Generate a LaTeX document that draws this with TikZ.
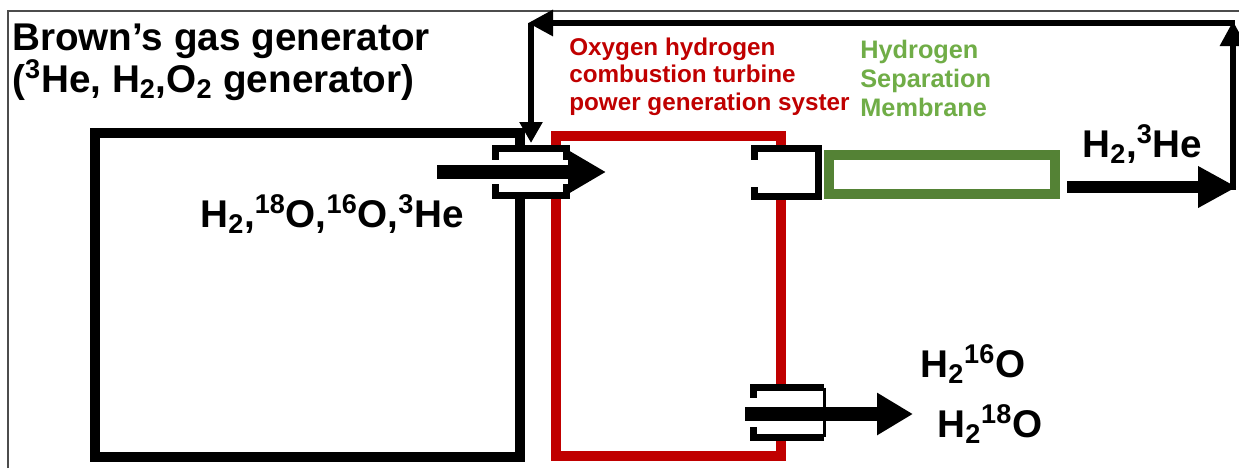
\documentclass[tikz,border=0pt]{standalone}
\usepackage{fontspec}
\setmainfont{Liberation Sans}
\usepackage{xcolor}
\usetikzlibrary{arrows.meta, positioning}
\definecolor{turbred}{RGB}{192,0,0}
\definecolor{memgreen}{RGB}{84,130,53}
\definecolor{memtext}{RGB}{112,173,71}

\begin{document}
\begin{tikzpicture}[
    x=0.02cm, y=-0.02cm,
    frame/.style={draw=black!70, line width=0.8pt},
    genbox/.style={draw, line width=5.7pt, minimum width=8.5cm, minimum height=6.48cm, inner sep=0pt},
    turbbox/.style={draw=turbred, line width=6pt, minimum width=4.5cm, minimum height=6.4cm, inner sep=0pt},
    membox/.style={draw=memgreen, line width=5.7pt, minimum width=4.52cm, minimum height=0.78cm, inner sep=0pt},
    valve/.style={fill=white, inner sep=0pt},
    klem/.style={draw, line width=4.3pt},
    flow/.style={draw, line width=7.5pt, -{Triangle[length=0.76cm, width=0.82cm]}},
    balik/.style={draw, line width=3.4pt, -{Triangle[length=0.5cm, width=0.5cm]}},
    judul/.style={anchor=base west, inner sep=0pt, font=\fontsize{22}{24}\selectfont\bfseries},
    zat/.style={anchor=base west, inner sep=0pt, font=\fontsize{22}{26}\selectfont\bfseries},
    ket/.style={anchor=north west, inner sep=0pt, align=left, font=\fontsize{13.8}{15.4}\selectfont\bfseries}
  ]
    \useasboundingbox[fill=white] (0,0) rectangle (1239,468);
    \draw[frame] (8,468) |- (1239,11);

    % boxes
    \node[genbox] (gen) at (307.5,295) {};
    \node[turbbox] (turb) at (668.5,296) {};
    \node[membox] (mem) at (942,174.5) {};

    % valves
    \node[valve, minimum width=1.4cm, minimum height=0.92cm] (vin) at (531,172) {};
    \node[valve, minimum width=1.26cm, minimum height=0.94cm] (vout) at (786.5,172.5) {};
    \node[valve, minimum width=1.4cm, minimum height=0.98cm] (vwat) at (789,412.5) {};

    \draw[klem] (vin.north west) ++(0,11) -- ++(0,-11) -- (vin.north east) -- ++(0,11);
    \draw[klem] (vin.south west) ++(0,-11) -- ++(0,11) -- (vin.south east) -- ++(0,-11);
    \draw[klem] (vout.north west) ++(0,11) -- ++(0,-11) -- (vout.north east) -- (vout.south east) -- (vout.south west) -- ++(0,-9);
    \draw[klem] (vwat.north west) ++(0,10) -- ++(0,-10) -- (vwat.north east);
    \draw[klem] (vwat.south west) ++(0,-10) -- ++(0,10) -- (vwat.south east);
    \draw[line width=2pt] (vwat.north east) -- (vwat.south east);

    % flows
    \coordinate (inA) at (437,172);
    \coordinate (inB) at (606,172);
    \coordinate (hA) at (1067,187);
    \coordinate (hB) at (1237,187);
    \coordinate (wA) at (745,414);
    \coordinate (wB) at (913,414);
    \draw[flow] (inA) -- (inB);
    \draw[flow, line width=6.8pt, -{Triangle[length=0.78cm, width=0.78cm]}] (hA) -- (hB);
    \draw[flow, -{Triangle[length=0.72cm, width=0.8cm]}] (wA) -- (wB);

    % return line
    \coordinate (r1) at (1233,190);
    \coordinate (r2) at (1233,21);
    \coordinate (r3) at (1235,23);
    \coordinate (r4) at (528,23);
    \coordinate (r5) at (531,23);
    \coordinate (r6) at (531,143);
    \draw[balik] (r1) -- (r2);
    \draw[balik] (r3) -- (r4);
    \draw[balik, -{Triangle[length=0.42cm, width=0.44cm]}] (r5) -- (r6);

    % labels
    \node[judul] (t1) at (12,50) {Brown’s gas generator};
    \node[judul] (t2) at (12,92) {(\textsuperscript{3}He, H\textsubscript{2},O\textsubscript{2} generator)};
    \node[ket, text=turbred] (tturb) at (569,38) {Oxygen hydrogen\\combustion turbine\\power generation syster};
    \node[ket, text=memtext, font=\fontsize{14.4}{16.5}\selectfont\bfseries] (tmem) at (860,40) {Hydrogen\\Separation\\Membrane};
    \node[zat] (zgen) at (200,227) {H\textsubscript{2},\textsuperscript{18}O,\textsuperscript{16}O,\textsuperscript{3}He};
    \node[zat] (zh) at (1082,157) {H\textsubscript{2},\textsuperscript{3}He};
    \node[zat] (zw1) at (920,377) {H\textsubscript{2}\textsuperscript{16}O};
    \node[zat] (zw2) at (937,437) {H\textsubscript{2}\textsuperscript{18}O};
  \end{tikzpicture}
\end{document}
